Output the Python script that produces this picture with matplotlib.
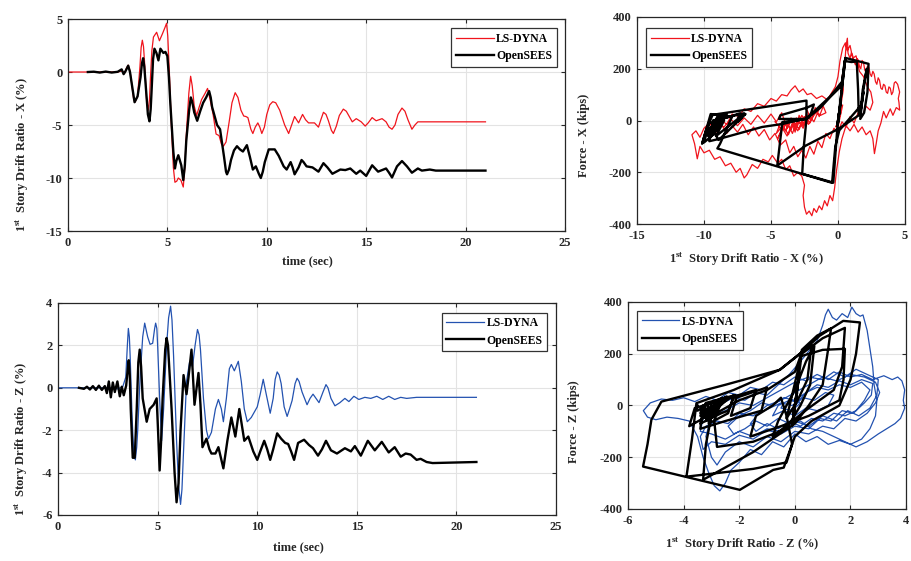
import numpy as np
import matplotlib
matplotlib.use("Agg")
import matplotlib.pyplot as plt

plt.rcParams['font.family'] = ['Liberation Serif', 'DejaVu Serif']
plt.rcParams['font.weight'] = 'bold'
plt.rcParams['axes.labelweight'] = 'bold'
plt.rcParams['axes.unicode_minus'] = False
plt.rcParams['mathtext.fontset'] = 'custom'
plt.rcParams['mathtext.rm'] = 'Liberation Serif:bold'

RED = '#f0141c'
BLUE = '#2352b0'
BLACK = '#000000'
TXT = '#262626'

# ---- time histories: (time [s], drift [%]) ----
x_dyna_th = [(0, 0), (2.5, 0), (2.7, 0.1), (2.85, -0.1), (2.95, 0.4), (3.03, 0.65), (3.12, 0.1), (3.2, -1.0),
             (3.3, -2.5), (3.37, -2.85), (3.5, -2.3), (3.62, 0.5), (3.68, 2.3), (3.74, 3.0), (3.8, 2.4), (3.85, 1.0),
             (3.95, -2.5), (4.04, -3.6), (4.1, -2.6), (4.15, -0.5), (4.22, 2.0), (4.3, 3.3), (4.46, 3.75),
             (4.6, 2.95), (4.75, 3.6), (4.88, 4.2), (4.96, 4.6), (5.02, 3.4), (5.1, 0.0), (5.2, -5.0), (5.3, -9.0),
             (5.38, -10.4), (5.47, -10.3), (5.55, -10.0), (5.68, -10.2), (5.8, -10.85), (5.88, -9.0), (5.95, -6.0),
             (6.08, -2.0), (6.17, -0.4), (6.25, -1.3), (6.35, -3.2), (6.47, -4.1), (6.6, -3.3), (6.72, -2.6),
             (6.9, -2.0), (7.02, -1.55), (7.15, -2.6), (7.3, -4.0), (7.45, -5.85), (7.6, -6.0), (7.72, -6.8),
             (7.82, -7.0), (7.95, -6.6), (8.1, -4.8), (8.25, -2.9), (8.41, -1.95), (8.55, -2.4), (8.7, -3.6),
             (8.84, -4.15), (8.95, -4.2), (9.05, -4.3), (9.2, -5.4), (9.3, -5.8), (9.42, -5.2), (9.55, -4.8),
             (9.65, -5.2), (9.75, -5.8), (9.88, -5.2), (10.0, -4.0), (10.15, -3.1), (10.3, -2.8), (10.45, -2.9),
             (10.65, -3.6), (10.9, -5.0), (11.1, -5.8), (11.25, -5.0), (11.4, -4.2), (11.5, -4.5), (11.6, -4.8),
             (11.7, -4.4), (11.8, -4.0), (11.95, -4.5), (12.1, -4.8), (12.4, -4.8), (12.6, -5.2), (12.72, -4.5),
             (12.85, -3.8), (12.98, -4.0), (13.1, -4.6), (13.25, -5.5), (13.35, -5.8), (13.5, -5.1), (13.65, -4.1),
             (13.85, -3.5), (14.0, -3.7), (14.15, -4.2), (14.3, -4.7), (14.5, -4.4), (14.75, -4.7), (14.95, -5.1),
             (15.1, -4.8), (15.3, -4.3), (15.5, -4.6), (15.8, -4.4), (16.0, -4.7), (16.15, -5.2), (16.3, -5.4),
             (16.45, -5.0), (16.6, -4.0), (16.8, -3.4), (16.95, -3.7), (17.1, -4.5), (17.3, -5.4), (17.45, -5.0),
             (17.6, -4.7), (18.0, -4.7), (21.0, -4.7)]
x_sees_th = [(1.0, 0), (1.3, 0.03), (1.6, -0.05), (1.9, 0.04), (2.2, -0.05), (2.5, 0.02), (2.7, 0.25), (2.8, -0.2),
             (2.9, 0.1), (3.03, 0.6), (3.12, 0.0), (3.2, -1.0), (3.35, -2.85), (3.5, -2.3), (3.65, -0.5), (3.72, 0.8),
             (3.78, 1.3), (3.84, 0.5), (3.9, -1.0), (4.02, -4.0), (4.1, -4.65), (4.16, -3.5), (4.2, -2.0),
             (4.28, 1.2), (4.35, 2.2), (4.45, 1.8), (4.55, 1.1), (4.65, 2.2), (4.8, 1.8), (4.9, 1.9), (5.0, 1.5),
             (5.08, -0.5), (5.15, -3.0), (5.3, -7.5), (5.38, -9.1), (5.45, -8.4), (5.55, -7.85), (5.7, -8.8),
             (5.8, -10.2), (5.88, -8.8), (5.95, -6.5), (6.1, -3.5), (6.18, -2.4), (6.25, -2.8), (6.35, -3.8),
             (6.5, -4.6), (6.65, -3.7), (6.8, -2.9), (6.95, -2.4), (7.1, -1.8), (7.18, -2.4), (7.25, -3.3),
             (7.5, -5.0), (7.65, -5.4), (7.85, -8.0), (7.95, -9.4), (8.0, -9.65), (8.1, -9.2), (8.2, -8.3),
             (8.35, -7.4), (8.5, -7.0), (8.65, -7.3), (8.8, -7.5), (9.0, -6.9), (9.15, -8.0), (9.3, -9.2),
             (9.45, -8.9), (9.6, -9.6), (9.7, -10.0), (9.8, -9.4), (9.9, -8.5), (10.1, -7.3), (10.4, -7.3),
             (10.6, -7.9), (10.85, -8.9), (11.0, -9.2), (11.2, -8.5), (11.3, -9.0), (11.4, -9.65), (11.6, -9.0),
             (11.75, -8.3), (11.85, -8.5), (12.0, -8.9), (12.3, -9.0), (12.6, -9.4), (12.85, -8.6), (13.05, -9.0),
             (13.3, -9.6), (13.7, -9.2), (13.95, -9.25), (14.2, -9.1), (14.5, -9.6), (14.7, -9.3), (15.0, -9.8),
             (15.15, -9.3), (15.3, -8.8), (15.45, -9.1), (15.6, -9.4), (16.0, -9.1), (16.15, -9.5), (16.3, -9.95),
             (16.55, -8.9), (16.8, -8.4), (17.05, -8.9), (17.3, -9.5), (17.6, -9.1), (17.8, -9.3), (18.2, -9.2),
             (18.5, -9.3), (21.0, -9.3)]
z_dyna_th = [(0, 0), (2.6, 0.0), (3.0, -0.05), (3.25, 0.05), (3.4, 0.5), (3.48, 2.0), (3.53, 2.8), (3.58, 2.4),
             (3.62, 1.5), (3.72, -1.5), (3.8, -3.0), (3.88, -3.4), (3.95, -2.8), (4.0, -2.0), (4.12, 0.5),
             (4.25, 2.4), (4.35, 3.05), (4.5, 2.4), (4.62, 2.05), (4.75, 2.1), (4.85, 2.8), (4.9, 3.05), (4.96, 2.8),
             (5.0, 2.0), (5.1, -0.5), (5.2, -2.5), (5.3, -1.0), (5.45, 2.0), (5.55, 3.3), (5.65, 3.85), (5.72, 3.2),
             (5.8, 1.5), (5.95, -2.5), (6.05, -4.6), (6.15, -5.5), (6.22, -4.8), (6.3, -3.0), (6.45, 0.3),
             (6.6, 1.2), (6.75, 1.0), (6.88, 2.0), (7.0, 2.75), (7.08, 2.5), (7.15, 1.8), (7.3, -0.5), (7.45, -2.0),
             (7.55, -2.4), (7.7, -2.1), (7.9, -1.0), (8.05, -0.55), (8.2, -1.0), (8.3, -1.6), (8.45, -0.5),
             (8.6, 0.9), (8.7, 1.1), (8.85, 0.8), (9.05, 1.25), (9.2, 0.3), (9.35, -1.0), (9.5, -1.6), (9.7, -1.4),
             (10.0, -0.9), (10.15, -0.3), (10.3, 0.4), (10.45, -0.3), (10.65, -1.2), (10.8, -0.5), (10.9, 0.4),
             (11.0, 0.75), (11.1, 0.6), (11.2, 0.2), (11.35, -0.9), (11.5, -1.35), (11.62, -1.0), (11.75, -0.6),
             (11.9, 0.2), (12.0, 0.45), (12.1, 0.3), (12.25, -0.2), (12.5, -0.8), (12.65, -0.5), (12.8, -0.3),
             (12.95, -0.5), (13.1, -0.7), (13.3, -0.2), (13.45, 0.15), (13.55, 0.0), (13.7, -0.5), (13.9, -0.85),
             (14.15, -0.7), (14.4, -0.5), (14.6, -0.65), (14.85, -0.4), (15.1, -0.55), (15.4, -0.45), (15.7, -0.5),
             (16.0, -0.4), (16.3, -0.55), (16.6, -0.4), (16.9, -0.55), (17.2, -0.45), (17.5, -0.5), (18.0, -0.45),
             (21.0, -0.45)]
z_sees_th = [(1.05, 0), (1.3, -0.05), (1.45, 0.05), (1.6, -0.08), (1.75, 0.08), (1.9, -0.1), (2.05, 0.1),
             (2.2, -0.1), (2.35, 0.08), (2.45, -0.25), (2.55, 0.3), (2.65, -0.45), (2.75, 0.25), (2.85, -0.2),
             (2.98, 0.3), (3.1, -0.4), (3.2, 0.05), (3.3, -0.35), (3.42, 0.1), (3.5, 0.9), (3.55, 1.3), (3.6, 0.6),
             (3.65, -1.0), (3.75, -3.3), (3.85, -3.3), (3.95, -1.0), (4.03, 1.2), (4.1, 1.8), (4.17, 1.0),
             (4.25, -0.5), (4.45, -1.6), (4.6, -1.0), (4.8, -0.8), (4.95, -0.5), (5.02, -2.0), (5.1, -3.9),
             (5.17, -2.6), (5.25, -0.5), (5.38, 1.8), (5.45, 2.35), (5.52, 2.0), (5.58, 1.0), (5.7, -1.0),
             (5.85, -4.0), (5.95, -5.4), (6.05, -4.5), (6.15, -2.0), (6.3, 0.6), (6.45, -0.3), (6.55, 0.5),
             (6.7, 1.8), (6.85, -0.8), (7.05, 0.7), (7.15, -0.8), (7.25, -2.8), (7.45, -2.4), (7.6, -2.9),
             (7.7, -3.1), (7.9, -3.1), (8.05, -2.8), (8.15, -3.2), (8.3, -3.8), (8.5, -2.5), (8.7, -1.4),
             (8.9, -2.3), (9.1, -1.0), (9.35, -2.5), (9.55, -2.3), (9.8, -3.0), (10.0, -3.4), (10.15, -3.0),
             (10.35, -2.5), (10.5, -2.9), (10.65, -3.4), (10.8, -2.9), (11.0, -2.15), (11.2, -2.4), (11.4, -2.6),
             (11.55, -2.65), (11.7, -3.0), (11.85, -3.4), (12.05, -2.6), (12.35, -2.45), (12.6, -2.7),
             (12.8, -2.85), (13.05, -3.2), (13.25, -2.9), (13.45, -2.5), (13.7, -2.95), (14.0, -3.1), (14.4, -2.85),
             (14.7, -3.0), (14.9, -2.75), (15.2, -3.2), (15.4, -2.8), (15.55, -2.5), (15.9, -2.95), (16.25, -2.55),
             (16.6, -3.05), (16.9, -2.8), (17.2, -3.25), (17.45, -3.1), (17.7, -3.15), (18.0, -3.4), (18.2, -3.35),
             (18.5, -3.5), (18.8, -3.55), (21.0, -3.5)]

# ---- hysteresis: (drift [%], force [kips]) ----
x_dyna_hys = [(0, 0), (0.2, 30), (-0.15, -25), (0.35, 60), (-0.1, -50), (0.4, 120), (0.3, 170), (0.5, 210),
              (0.6, 290), (0.7, 318), (0.75, 260), (0.9, 240), (1.0, 262), (1.1, 250), (1.2, 228), (1.3, 215),
              (1.4, 240), (1.5, 235), (1.6, 210), (1.7, 200), (1.8, 232), (1.9, 225), (2.0, 195), (2.1, 185),
              (2.2, 210), (2.3, 205), (2.4, 180), (2.5, 170), (2.6, 190), (2.7, 180), (2.8, 150), (2.9, 140),
              (3.0, 165), (3.1, 155), (3.2, 125), (3.3, 120), (3.4, 140), (3.5, 135), (3.6, 110), (3.7, 105),
              (3.8, 130), (3.9, 125), (4.0, 100), (4.1, 110), (4.2, 145), (4.3, 150), (4.45, 140), (4.6, 110),
              (4.5, 85), (4.55, 70), (4.6, 40), (4.35, 50), (4.1, 20), (3.9, 45), (3.6, 10), (3.4, 35), (3.2, -10),
              (3.0, -40), (2.85, -90), (2.72, -128), (2.6, -70), (2.4, -40), (2.1, -55), (1.8, -25), (1.5, -45),
              (1.2, -15), (0.9, -40), (0.6, -20), (0.3, -70), (0.1, -120), (-0.1, -190), (-0.25, -260), (-0.4, -310),
              (-0.6, -290), (-0.8, -330), (-1.0, -310), (-1.2, -345), (-1.4, -330), (-1.6, -355), (-1.8, -340),
              (-1.95, -368), (-2.15, -350), (-2.35, -362), (-2.5, -335), (-2.6, -290), (-2.5, -250), (-2.7, -215),
              (-3.0, -200), (-3.3, -215), (-3.6, -175), (-3.9, -190), (-4.2, -150), (-4.5, -165), (-4.9, -135),
              (-5.2, -160), (-5.6, -150), (-6.0, -185), (-6.4, -170), (-6.8, -210), (-7.0, -222), (-7.3, -185),
              (-7.6, -200), (-8.0, -165), (-8.4, -175), (-8.8, -140), (-9.2, -150), (-9.6, -115), (-10.0, -125),
              (-10.3, -100), (-10.5, -148), (-10.7, -90), (-10.9, -55), (-10.6, -40), (-10.3, -65), (-10.0, -30),
              (-9.6, -10), (-9.2, -35), (-8.8, 5), (-8.3, -15), (-7.9, 25), (-7.4, 15), (-7.0, 45), (-6.5, 35),
              (-6.0, 65), (-5.5, 55), (-5.0, 85), (-4.6, 75), (-4.2, 100), (-3.8, 95), (-3.5, 118), (-3.2, 134),
              (-2.9, 110), (-2.6, 122), (-2.3, 100), (-2.0, 105), (-1.6, 85), (-1.2, 95), (-0.8, 80), (-0.5, 105),
              (-0.2, 130), (0.0, 170), (0.15, 230), (0.35, 280), (0.55, 300), (0.7, 270), (0.9, 290), (1.1, 240),
              (1.35, 250), (1.6, 190), (1.9, 170), (2.2, 130), (2.45, 110), (2.6, 70), (2.4, 40), (2.1, 55), (1.8, 15),
              (1.5, 30), (1.2, -10), (0.9, 15), (0.6, -25), (0.3, -5), (0.0, -45), (-0.3, -30), (-0.6, -70),
              (-0.9, -50), (-1.2, -105), (-1.5, -80), (-1.8, -130), (-2.1, -100), (-2.4, -145), (-2.7, -115),
              (-3.0, -140), (-3.3, -100), (-3.6, -125), (-3.9, -75), (-4.3, -95), (-4.7, -50), (-5.1, -75),
              (-5.5, -35), (-5.9, -60), (-6.3, -25), (-6.7, -55), (-7.1, -15), (-7.5, -45), (-7.9, -20), (-8.3, -50),
              (-8.7, -15), (-9.1, -55), (-9.4, -35), (-9.0, -10), (-8.5, -25), (-8.0, 5), (-7.5, -20), (-7.0, 10),
              (-6.5, -15), (-6.0, 20), (-5.5, -10), (-5.0, 25), (-4.6, -5), (-4.2, 30), (-3.8, -30), (-3.5, 10),
              (-3.2, -45), (-2.9, 20), (-2.6, -20), (-2.3, 40), (-2.0, 0), (-1.7, 50), (-1.4, 15), (-1.1, 55),
              (-0.9, 30), (-1.3, 20), (-1.7, 35), (-2.1, -10), (-2.5, 15), (-2.9, -35), (-3.3, -5), (-3.7, -55),
              (-4.1, -20), (-4.5, -70), (-4.2, -40), (-3.8, -5), (-3.4, -50), (-3.0, 5), (-2.6, -30), (-2.2, 25),
              (-1.8, -5), (-1.4, 45), (-1.8, 20), (-2.2, -15), (-2.6, 10), (-3.0, -40), (-3.4, -10), (-3.8, -60),
              (-4.2, -25), (-4.6, -50), (-4.3, -10), (-3.9, -40), (-3.5, 0), (-3.1, -30), (-2.7, 20), (-2.3, -10),
              (-1.9, 30), (-2.3, 5), (-2.7, -20), (-3.1, 10), (-3.5, -35), (-3.9, -10), (-4.3, -30), (-4.6, -10),
              (-4.7, -5)]
x_sees_hys = [(0, 0), (0.1, 35), (-0.05, -20), (0.2, 70), (0.0, -10), (0.55, 240), (-0.05, -30), (-0.35, -240),
              (-2.67, -206), (-2.55, -100), (-2.35, 6), (-1.3, 50), (-0.6, 90), (0.28, 135), (0.5, 230), (1.0, 226),
              (1.4, 228), (1.5, 120), (1.55, 20), (0.05, -32), (-2.4, -97), (-4.53, -174), (-4.15, -6), (-2.4, 5),
              (-0.6, 92), (0.3, 150), (0.55, 242), (2.28, 219), (2.2, 110), (1.95, 30), (1.66, 6), (1.9, 120),
              (2.15, 200), (1.85, 120), (1.7, 40), (1.9, 110), (1.75, 60), (0.1, -38), (-0.2, -100), (-0.44, -241),
              (-4.5, -178), (-9.0, -108), (-8.8, -90), (-7.9, 15), (-9.5, 25), (-10.14, -90), (-9.8, -30),
              (-9.35, 22), (-5.5, 52), (-2.35, 77), (-2.35, 6), (-4.4, 6), (-4.3, 20), (-2.3, 50), (-1.8, 62),
              (-2.0, 30), (-2.2, 10), (-4.1, -13), (-5.66, -25), (-8.86, -71), (-9.6, -80), (-9.3, 0), (-7.0, 28),
              (-7.2, 10), (-7.5, -5), (-7.3, 15), (-6.9, 25), (-8.9, -75), (-9.2, -50), (-10.0, -85), (-9.6, -10),
              (-7.3, 28), (-7.5, 5), (-9.1, -60), (-8.5, 0), (-9.6, -70), (-9.0, 10), (-8.3, 25), (-8.6, 0),
              (-8.9, -30), (-9.4, -55), (-8.6, 15), (-9.6, -50), (-9.2, -10), (-9.1, 0), (-9.6, -45), (-8.8, 20),
              (-9.4, -30), (-9.9, -55), (-8.4, 25), (-9.5, -40), (-9.1, 5), (-9.3, -20), (-9.7, -60), (-9.0, 15),
              (-8.7, 20), (-9.5, -30), (-9.8, -50), (-9.0, 10), (-9.3, -20), (-9.2, -5), (-9.3, 0)]
z_dyna_hys = [(0, 0), (0.2, 25), (-0.15, -20), (0.4, 50), (0.8, 80), (1.2, 70), (1.6, 95), (2.0, 80), (2.4, 100),
              (2.8, 85), (2.75, 40), (2.5, 10), (2.1, -30), (1.7, -20), (1.3, -60), (0.9, -50), (0.5, -90),
              (0.0, -80), (-0.5, -110), (-1.0, -95), (-1.5, -130), (-2.0, -115), (-2.5, -150), (-3.0, -140),
              (-3.3, -170), (-3.4, -120), (-3.2, -80), (-2.8, -60), (-2.4, -70), (-2.0, -30), (-1.5, -40), (-1.0, 0),
              (-0.5, 20), (0.0, 50), (0.5, 80), (1.0, 110), (1.5, 95), (2.0, 120), (2.5, 110), (2.9, 90), (3.05, 50),
              (2.9, 10), (2.6, -30), (2.2, -60), (1.8, -50), (1.4, -90), (1.0, -80), (0.5, -110), (0.0, -100),
              (-0.5, -140), (-1.0, -120), (-1.5, -160), (-2.0, -140), (-2.5, -180), (-2.8, -230), (-3.0, -200),
              (-3.2, -120), (-3.0, -40), (-2.5, -20), (-2.0, 10), (-1.5, 0), (-1.0, 30), (-0.5, 60), (0.0, 90),
              (0.5, 110), (1.0, 100), (1.4, 130), (1.8, 110), (2.2, 140), (2.6, 120), (3.0, 100), (2.95, 40),
              (2.7, -10), (2.3, -40), (1.9, -20), (1.5, -60), (1.0, -40), (0.5, -80), (0.0, -60), (-0.5, -100),
              (-1.0, -90), (-1.5, -120), (-2.0, -100), (-2.5, -130), (-3.0, -110), (-3.4, -100), (-3.3, -50),
              (-3.0, -10), (-2.6, 10), (-2.2, 30), (-1.8, 20), (-1.4, 50), (-1.0, 40), (-0.6, 80), (-0.2, 120),
              (0.2, 170), (0.5, 210), (0.8, 250), (1.0, 310), (1.1, 350), (1.2, 372), (1.35, 340), (1.5, 330),
              (1.7, 355), (1.9, 340), (2.05, 380), (2.2, 355), (2.35, 345), (2.45, 350), (2.6, 290), (2.7, 220),
              (2.8, 150), (2.85, 80), (2.95, 20), (2.9, -40), (2.7, -90), (2.4, -130), (2.0, -150), (1.6, -135),
              (1.2, -150), (0.8, -120), (0.4, -140), (0.0, -110), (-0.4, -160), (-0.8, -140), (-1.2, -190),
              (-1.6, -170), (-2.0, -220), (-2.3, -250), (-2.5, -300), (-2.7, -330), (-2.9, -310), (-3.1, -260),
              (-3.3, -200), (-3.5, -120), (-3.8, -60), (-4.2, -50), (-4.6, -45), (-5.0, -55), (-5.3, -45),
              (-5.45, -20), (-5.2, 10), (-4.8, 25), (-4.4, 20), (-4.0, 30), (-3.6, 15), (-3.2, 35), (-2.8, 20),
              (-2.4, 50), (-2.0, 40), (-1.6, 70), (-1.2, 60), (-0.8, 90), (-0.4, 80), (0.0, 110), (0.4, 95),
              (0.8, 120), (1.2, 100), (1.6, 130), (2.0, 110), (2.4, 120), (2.8, 100), (3.2, 115), (3.5, 100),
              (3.7, 110), (3.85, 95), (3.95, 60), (3.9, 20), (3.95, -10), (3.8, -50), (3.6, -70), (3.3, -90),
              (3.0, -110), (2.6, -140), (2.2, -160), (1.8, -140), (1.4, -120), (1.0, -100), (0.6, -90), (0.2, -60),
              (-0.2, -70), (-0.6, -50), (-1.0, -80), (-1.4, -60), (-1.8, -90), (-2.2, -110), (-2.4, -80),
              (-2.0, -40), (-1.6, -20), (-1.2, 10), (-0.8, 0), (-0.4, 30), (0.0, 20), (0.4, 50), (0.8, 70),
              (1.2, 60), (1.6, 80), (2.0, 70), (2.4, 90), (2.7, 60), (2.5, 20), (2.2, -20), (1.8, -40), (1.4, -30),
              (1.0, -60), (0.6, -50), (0.2, -80), (-0.2, -60), (-0.6, -90), (-1.0, -70), (-1.4, -100), (-1.6, -70),
              (-1.3, -30), (-0.9, -10), (-0.5, 10), (-0.1, 0), (0.3, 30), (0.7, 20), (1.1, 50), (1.4, 40), (1.2, 0),
              (0.8, -20), (0.4, -10), (0.0, -40), (-0.4, -20), (-0.8, -40), (-0.6, 0), (-0.2, 20), (0.2, 10),
              (-0.1, -20), (-0.5, -10), (-0.45, 0)]
z_sees_hys = [(0, 0), (0.08, 50), (-0.06, -40), (0.15, 110), (-0.1, -80), (0.2, 160), (0.25, 215), (0.8, 270),
              (1.3, 298), (1.2, 220), (1.0, 80), (0.5, 0), (0.0, -70), (-1.5, -180), (-3.3, -287), (-3.2, -150),
              (-3.0, -40), (-2.0, 20), (-1.0, 60), (0.0, 130), (0.2, 190), (1.0, 215), (1.8, 219), (1.75, 100),
              (1.6, 20), (0.5, -40), (-0.5, -80), (-1.6, -120), (-1.4, -40), (-0.8, 0), (-0.5, 30), (-0.3, -40),
              (-0.1, -150), (-0.3, -220), (-1.5, -245), (-3.9, -275), (-3.7, -130), (-3.54, 9), (-2.2, 60),
              (-0.54, 138), (0.18, 200), (0.9, 270), (1.74, 327), (2.34, 321), (2.2, 200), (2.0, 100), (1.6, 0),
              (0.6, -60), (0.0, -120), (-0.4, -240), (-0.78, -249), (-1.98, -326), (-5.46, -236), (-5.3, -150),
              (-5.16, -55), (-4.8, 15), (-2.5, 80), (-0.54, 138), (0.3, 210), (0.6, 232), (0.45, 100), (0.1, 20),
              (-0.3, -50), (-0.1, 40), (0.25, 200), (1.0, 260), (1.8, 300), (1.7, 150), (1.4, 60), (0.5, -10),
              (-0.8, -120), (-0.6, -60), (0.0, 60), (0.4, 170), (0.7, 230), (0.55, 80), (0.2, 0), (-0.3, -90),
              (-1.5, -140), (-2.8, -160), (-2.9, -60), (-2.7, 0), (-2.2, 40), (-2.4, -30), (-3.1, -70), (-3.0, 10),
              (-2.6, 30), (-2.8, -20), (-3.8, -80), (-3.6, -10), (-1.4, 60), (-1.6, -10), (-2.3, -40), (-2.1, 30),
              (-1.0, 70), (-1.2, -20), (-2.5, -60), (-3.4, -90), (-3.3, 0), (-2.5, 30), (-3.4, -40), (-3.2, 10),
              (-2.15, 40), (-2.4, -20), (-2.65, -30), (-3.4, -70), (-3.2, 0), (-2.6, 25), (-2.45, 35), (-2.8, -10),
              (-3.2, -60), (-2.5, 20), (-2.95, -20), (-3.1, -40), (-2.85, 10), (-3.0, -10), (-2.75, 15), (-3.2, -50),
              (-2.5, 25), (-2.95, -10), (-2.55, 20), (-3.05, -30), (-2.8, 5), (-3.25, -40), (-3.1, -5), (-3.15, -15),
              (-3.4, -30), (-3.35, -10), (-3.5, -20), (-3.55, -15), (-3.5, 0)]

drift_x_label = '1$^{\\mathrm{st}}$  Story Drift Ratio - X (%)'
drift_z_label = '1$^{\\mathrm{st}}$  Story Drift Ratio - Z (%)'

fig = plt.figure(figsize=(9.11, 5.61), dpi=100)
ax_tl = fig.add_axes([0.0746, 0.5882, 0.5456, 0.3779])
ax_tr = fig.add_axes([0.6992, 0.6007, 0.2942, 0.3690])
ax_bl = fig.add_axes([0.0637, 0.0820, 0.5467, 0.3779])
ax_br = fig.add_axes([0.6894, 0.0927, 0.3052, 0.3690])


def style(ax):
    ax.grid(True, color='#e3e3e3', lw=0.8)
    ax.set_axisbelow(True)
    for s in ax.spines.values():
        s.set_color(TXT)
        s.set_linewidth(0.9)
    ax.tick_params(direction='in', length=3, width=0.8, top=True, right=True,
                   labelsize=9, colors=TXT, pad=4)
    for lab in ax.get_xticklabels() + ax.get_yticklabels():
        lab.set_fontweight('bold')


def draw(ax, data_a, data_b, color):
    a = np.array(data_a)
    b = np.array(data_b)
    ax.plot(a[:, 0], a[:, 1], color=color, lw=0.9, label='LS-DYNA')
    ax.plot(b[:, 0], b[:, 1], color=BLACK, lw=1.7, label='OpenSEES')


def legend(ax, loc, anchor):
    lg = ax.legend(loc=loc, bbox_to_anchor=anchor, prop={'size': 8.5, 'weight': 'bold'},
                   fancybox=False, framealpha=1, edgecolor='#333333', handlelength=3.2,
                   handletextpad=0.2, labelspacing=0.45, borderpad=0.4, borderaxespad=0)
    lg.get_frame().set_linewidth(0.9)


def labels(ax, xl, yl):
    ax.set_xlabel(xl, fontsize=9, color=TXT, fontweight='bold')
    ax.set_ylabel(yl, fontsize=9, color=TXT, fontweight='bold')


# top left: X drift history
draw(ax_tl, x_dyna_th, x_sees_th, RED)
ax_tl.set_xlim(0, 25)
ax_tl.set_ylim(-15, 5)
ax_tl.set_xticks([0, 5, 10, 15, 20, 25])
ax_tl.set_yticks([-15, -10, -5, 0, 5])
style(ax_tl)
labels(ax_tl, 'time (sec)', drift_x_label)
ax_tl.xaxis.set_label_coords(0.481, -0.115)
ax_tl.yaxis.set_label_coords(-0.075, 0.363)
legend(ax_tl, 'upper right', (0.984, 0.958))

# top right: X hysteresis
draw(ax_tr, x_dyna_hys, x_sees_hys, RED)
ax_tr.set_xlim(-15, 5)
ax_tr.set_ylim(-400, 400)
ax_tr.set_xticks([-15, -10, -5, 0, 5])
ax_tr.set_yticks([-400, -200, 0, 200, 400])
style(ax_tr)
labels(ax_tr, drift_x_label, 'Force - X (kips)')
ax_tr.xaxis.set_label_coords(0.41, -0.13)
ax_tr.yaxis.set_label_coords(-0.175, 0.43)
legend(ax_tr, 'upper left', (0.034, 0.947))

# bottom left: Z drift history
draw(ax_bl, z_dyna_th, z_sees_th, BLUE)
ax_bl.set_xlim(0, 25)
ax_bl.set_ylim(-6, 4)
ax_bl.set_xticks([0, 5, 10, 15, 20, 25])
ax_bl.set_yticks([-6, -4, -2, 0, 2, 4])
style(ax_bl)
labels(ax_bl, 'time (sec)', drift_z_label)
ax_bl.xaxis.set_label_coords(0.482, -0.125)
ax_bl.yaxis.set_label_coords(-0.056, 0.358)
legend(ax_bl, 'upper right', (0.982, 0.955))

# bottom right: Z hysteresis
draw(ax_br, z_dyna_hys, z_sees_hys, BLUE)
ax_br.set_xlim(-6, 4)
ax_br.set_ylim(-400, 400)
ax_br.set_xticks([-6, -4, -2, 0, 2, 4])
ax_br.set_yticks([-400, -200, 0, 200, 400])
style(ax_br)
labels(ax_br, drift_z_label, 'Force - Z (kips)')
ax_br.xaxis.set_label_coords(0.41, -0.13)
ax_br.yaxis.set_label_coords(-0.173, 0.42)
legend(ax_br, 'upper left', (0.032, 0.957))

fig.savefig('out.png', dpi=100)
